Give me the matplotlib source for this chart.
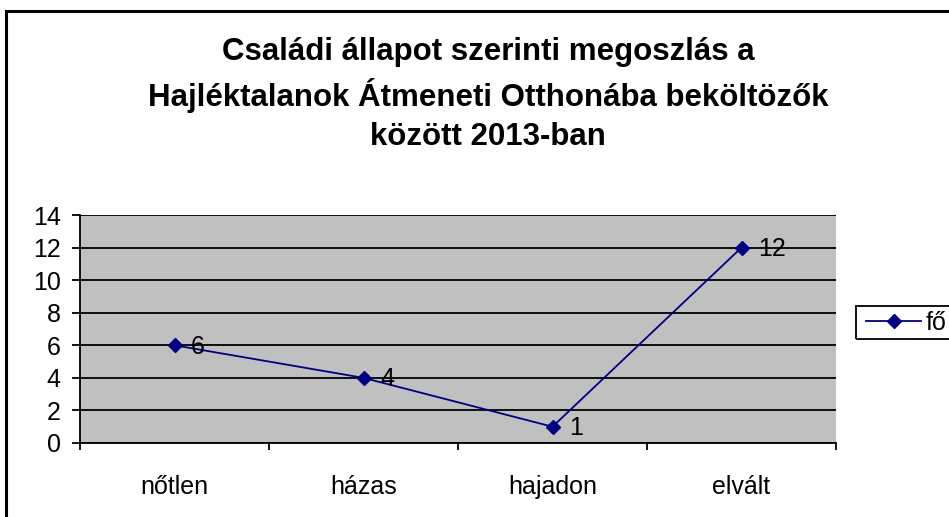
import matplotlib.pyplot as plt
from matplotlib.patches import Rectangle

plt.rcParams['font.family'] = ['Liberation Sans', 'DejaVu Sans']

categories = ['nőtlen', 'házas', 'hajadon', 'elvált']
values = [6, 4, 1, 12]
series_name = 'fő'
title = 'Családi állapot szerinti megoszlás a\nHajléktalanok Átmeneti Otthonába beköltözők\nközött 2013-ban'
yticks = [0, 2, 4, 6, 8, 10, 12, 14]

fig = plt.figure(figsize=(9.49, 5.17), dpi=100)
# outer chart border (only top/left visible in the original crop)
fig.patches.append(Rectangle((6 / 949, -0.1), 1.2, 1 - 11 / 517 + 0.1,
                             transform=fig.transFigure, fill=False,
                             edgecolor='black', linewidth=2.2))

ax = fig.add_axes([80 / 949, 1 - 443 / 517, 756 / 949, 228 / 517])
ax.set_facecolor('#C0C0C0')

x = list(range(len(categories)))
line, = ax.plot(x, values, color='#000080', linewidth=1.3, marker='D',
                markersize=7, label=series_name, zorder=3)
for xi, v in zip(x, values):
  ax.annotate(str(v), (xi, v), xytext=(12, -1), textcoords='offset points',
              va='center', ha='left', fontsize=18, color='black')

ax.set_xlim(-0.5, len(categories) - 0.5)
ax.set_ylim(0, 14)
ax.set_yticks(yticks)
ax.set_yticklabels([str(t) for t in yticks], fontsize=18)
ax.set_xticks(x)
ax.set_xticklabels(categories, fontsize=18)
ax.tick_params(axis='x', which='major', length=0, pad=23)
ax.set_xticks([i - 0.5 for i in range(len(categories) + 1)], minor=True)
ax.tick_params(axis='x', which='minor', length=5, width=1.3, direction='out')
ax.tick_params(axis='y', length=6, width=1.3, direction='out', pad=8)
ax.yaxis.grid(True, color='black', linewidth=1.3)
ax.set_axisbelow(True)
for side in ['top', 'right']:
  ax.spines[side].set_visible(False)
for side in ['left', 'bottom']:
  ax.spines[side].set_linewidth(1.3)

fig.text(488 / 949, 1 - 94.5 / 517, title, ha='center', va='center',
         fontsize=22.5, fontweight='bold', linespacing=1.4)

# legend box runs off the right edge, as in the original
leg = ax.legend(handles=[line], loc='center left',
                bbox_to_anchor=(866 / 949, 1 - 323 / 517),
                bbox_transform=fig.transFigure, fontsize=18,
                frameon=False, handlelength=2.2,
                borderpad=0, handletextpad=0.2, borderaxespad=0)
fig.patches.append(Rectangle((856 / 949, 1 - 339 / 517), 0.2, 33 / 517,
                             transform=fig.transFigure, fill=False,
                             edgecolor='black', linewidth=1.3))

fig.savefig('out.png', dpi=100)
